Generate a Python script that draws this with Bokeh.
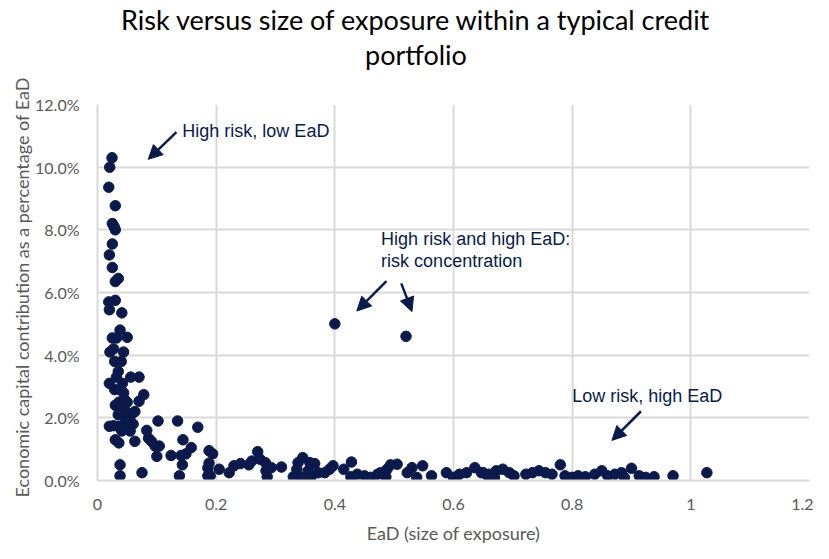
from bokeh.plotting import figure
from bokeh.models import (Range1d, FixedTicker, NumeralTickFormatter, Label, Arrow,
                          NormalHead, ColumnDataSource, Title)
from bokeh.embed import file_html
from bokeh.resources import INLINE

# --- data -------------------------------------------------------------
ead = [
    0.0245, 0.0206, 0.019, 0.030, 0.025, 0.028, 0.030, 0.025, 0.020, 0.025,
    0.030, 0.035, 0.019, 0.030, 0.020, 0.041, 0.038, 0.025, 0.032, 0.050,
    0.021, 0.027, 0.044, 0.029, 0.040, 0.035, 0.020, 0.056, 0.070, 0.029,
    0.038, 0.044, 0.078, 0.070, 0.030, 0.036, 0.045, 0.050, 0.057, 0.063,
    0.040, 0.020, 0.035, 0.045, 0.050, 0.041, 0.055, 0.030, 0.036, 0.063,
    0.083, 0.086, 0.091, 0.097, 0.102, 0.104, 0.100, 0.124, 0.135, 0.144,
    0.141, 0.149, 0.158, 0.169, 0.143, 0.138, 0.038, 0.038, 0.075, 0.186,
    0.190, 0.188, 0.194, 0.186, 0.188,
    0.032, 0.042, 0.047, 0.053, 0.060, 0.035, 0.027, 0.048,
    0.205, 0.222, 0.230, 0.241, 0.255, 0.260, 0.270, 0.274, 0.283, 0.284,
    0.286, 0.293, 0.310, 0.330, 0.336, 0.338, 0.346, 0.345, 0.355, 0.358,
    0.360, 0.366, 0.372, 0.383, 0.391, 0.397, 0.415, 0.428, 0.427, 0.438,
    0.450, 0.460, 0.472, 0.477, 0.488, 0.494, 0.505, 0.486, 0.522, 0.530,
    0.538, 0.548, 0.563, 0.588, 0.600, 0.610, 0.622, 0.636, 0.647, 0.658,
    0.669,
    0.650, 0.660, 0.672, 0.683, 0.694, 0.702, 0.722, 0.733, 0.744, 0.755,
    0.766, 0.780, 0.788, 0.800, 0.810, 0.822, 0.838, 0.850, 0.860, 0.872,
    0.883, 0.900, 0.888, 0.913, 0.924, 0.938, 0.970, 1.027,
    0.400, 0.520,
]
ec_share = [
    0.103, 0.100, 0.0936, 0.0877, 0.082, 0.081, 0.080, 0.0755, 0.072, 0.068,
    0.0635, 0.0645, 0.057, 0.0575, 0.0545, 0.0535, 0.048, 0.0455, 0.0455, 0.0457,
    0.041, 0.042, 0.041, 0.038, 0.038, 0.0348, 0.031, 0.033, 0.033, 0.029,
    0.029, 0.028, 0.0274, 0.0253, 0.024, 0.025, 0.026, 0.025, 0.021, 0.022,
    0.0235, 0.0173, 0.0173, 0.018, 0.0165, 0.0158, 0.0158, 0.013, 0.012, 0.0125,
    0.016, 0.0135, 0.0125, 0.011, 0.019, 0.011, 0.0077, 0.008, 0.019, 0.013,
    0.008, 0.0085, 0.0105, 0.017, 0.005, 0.0015, 0.005, 0.0015, 0.0025, 0.0015,
    0.0015, 0.0095, 0.0085, 0.004, 0.0055,
    0.033, 0.031, 0.020, 0.019, 0.018, 0.021, 0.0175, 0.022,
    0.0036, 0.0025, 0.0047, 0.0054, 0.005, 0.0062, 0.0092, 0.0068, 0.0057, 0.0031,
    0.0012, 0.0041, 0.0043, 0.0012, 0.0036, 0.0057, 0.0073, 0.001, 0.0031, 0.0057,
    0.0012, 0.0054, 0.0025, 0.0025, 0.0036, 0.0047, 0.0036, 0.0059, 0.0012, 0.002,
    0.0015, 0.001, 0.002, 0.0025, 0.0036, 0.005, 0.0052, 0.0012, 0.0025, 0.0041,
    0.001, 0.0047, 0.0015, 0.0025, 0.001, 0.002, 0.0025, 0.0041, 0.0025, 0.0015,
    0.001,
    0.0025, 0.002, 0.0031, 0.0036, 0.0025, 0.0015, 0.002, 0.0025, 0.0031, 0.0025,
    0.002, 0.005, 0.0015, 0.001, 0.0015, 0.0012, 0.002, 0.0031, 0.0015, 0.002,
    0.0025, 0.0039, 0.001, 0.0015, 0.001, 0.0012, 0.0015, 0.0025,
    0.050, 0.046,
]
x_ticks = [0, 0.2, 0.4, 0.6, 0.8, 1.0, 1.2]
y_ticks = [0, 0.02, 0.04, 0.06, 0.08, 0.10, 0.12]

title_lines = ["Risk versus size of exposure within a typical credit", "portfolio"]
x_title = "EaD (size of exposure)"
y_title = "Economic capital contribution as a percentage of EaD"

# --- styling -----------------------------------------------------------
NAVY = "#0b1a4b"
GRID = "#d9d9d9"
TICK = "#595959"
FONT = "Lato"
ANN_FONT = "Liberation Sans"

p = figure(width=813, height=548, output_backend="svg", toolbar_location=None,
           x_range=Range1d(0, 1.2), y_range=Range1d(0, 0.12),
           min_border_left=97, min_border_right=4, min_border_top=102,
           min_border_bottom=68, outline_line_color=None, title=None)

src = ColumnDataSource(dict(x=ead, y=ec_share))
p.scatter("x", "y", source=src, size=10.5, fill_color=NAVY, line_color=NAVY)

xa = p.below[0]
ya = p.left[0]
xa.ticker = FixedTicker(ticks=x_ticks)
ya.ticker = FixedTicker(ticks=y_ticks)
xa.formatter = NumeralTickFormatter(format="0.[0]")
ya.formatter = NumeralTickFormatter(format="0.0%")

for ax in (xa, ya):
    ax.axis_line_color = GRID
    ax.axis_line_width = 2
    ax.major_tick_line_color = None
    ax.minor_tick_line_color = None
    ax.major_tick_out = 0
    ax.major_tick_in = 0
    ax.minor_tick_out = 0
    ax.minor_tick_in = 0
    ax.major_label_text_font = FONT
    ax.major_label_text_font_size = "16px"
    ax.major_label_text_color = TICK
    ax.axis_label_text_font = FONT
    ax.axis_label_text_font_size = "18px"
    ax.axis_label_text_font_style = "normal"
    ax.axis_label_text_color = TICK

xa.axis_label = x_title
xa.major_label_standoff = 18
xa.axis_label_standoff = 9
ya.major_label_standoff = 18

p.xgrid.grid_line_color = GRID
p.ygrid.grid_line_color = GRID
p.xgrid.grid_line_width = 2
p.ygrid.grid_line_width = 2

# blank spacer between the plot area and the two title lines
p.add_layout(Title(text=" ", text_font=FONT, text_font_size="10px", standoff=20), "above")

# title: two centred lines stacked above the plot area
p.add_layout(Title(text=title_lines[1], align="left", offset=267.5, text_font=FONT,
                   text_font_size="27px", text_font_style="normal",
                   text_color="#000000", standoff=0), "above")
p.add_layout(Title(text=title_lines[0], align="left", offset=23.5, text_font=FONT,
                   text_font_size="27px", text_font_style="normal",
                   text_color="#000000", standoff=0), "above")

# y-axis title as a rotated side title, placed like the reference (not frame-centred)
p.add_layout(Title(text=y_title, align="left", offset=-17, vertical_align="bottom",
                   text_font=FONT, text_font_size="18px", text_font_style="normal",
                   text_color=TICK, standoff=0), "left")

# --- annotations -------------------------------------------------------
def add_text(x, y, t):
    p.add_layout(Label(x=x, y=y, text=t, text_font=ANN_FONT, text_font_size="18px",
                       text_color=NAVY, text_baseline="middle", text_align="left"))

def add_arrow(x0, y0, x1, y1):
    p.add_layout(Arrow(x_start=x0, y_start=y0, x_end=x1, y_end=y1,
                       line_color=NAVY, line_width=2.5,
                       end=NormalHead(size=14, fill_color=NAVY, line_color=NAVY)))

add_text(0.143, 0.1115, "High risk, low EaD")
add_arrow(0.133, 0.1112, 0.0855, 0.1025)

add_text(0.478, 0.0771, "High risk and high EaD:")
add_text(0.478, 0.0699, "risk concentration")
add_arrow(0.487, 0.0636, 0.437, 0.0541)
add_arrow(0.512, 0.0629, 0.530, 0.0539)

add_text(0.800, 0.0269, "Low risk, high EaD")
add_arrow(0.916, 0.0221, 0.867, 0.0128)

open("out.html", "w").write(file_html(p, INLINE))
